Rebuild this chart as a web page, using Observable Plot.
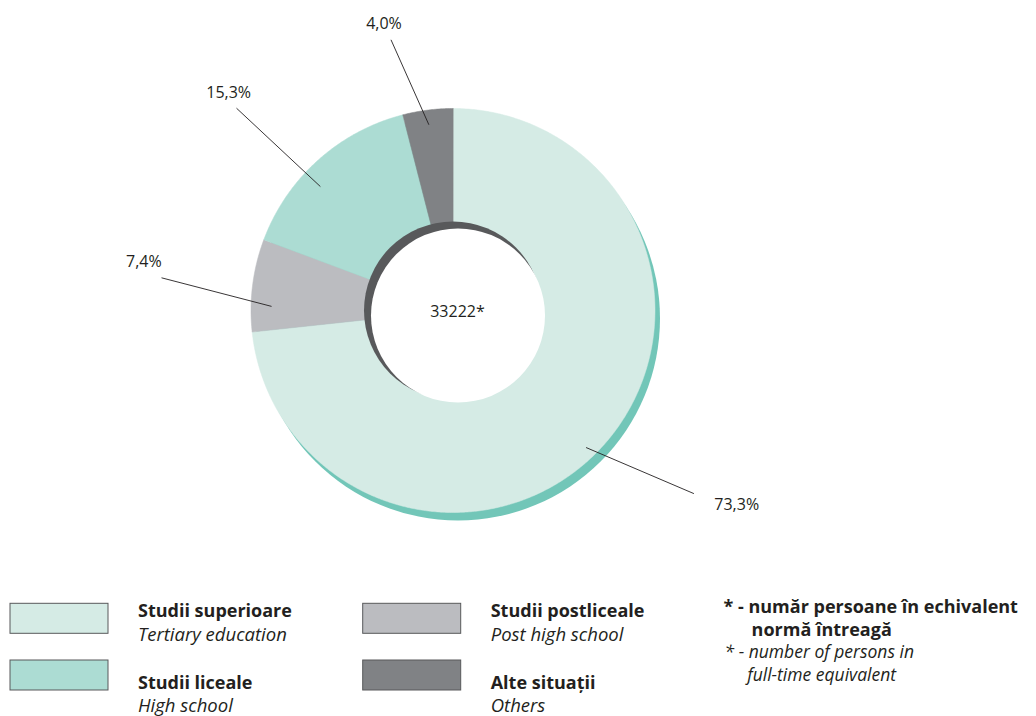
<!DOCTYPE html>
<html>
<head>
<meta charset="utf-8">
<script src="https://cdn.jsdelivr.net/npm/d3@7"></script>
<script src="https://cdn.jsdelivr.net/npm/@observablehq/plot@0.6"></script>
<style>
  html, body { margin: 0; padding: 0; background: #ffffff; }
  #chart svg { display: block; font-family: "Open Sans", sans-serif; color: #231f20; }
</style>
</head>
<body>
<div id="chart"></div>
<script>
// ---- Data ----
const categories = ["Studii superioare", "Studii postliceale", "Studii liceale", "Alte situații"];
const categoriesEn = ["Tertiary education", "Post high school", "High school", "Others"];
const shares = [73.3, 7.4, 15.3, 4.0];
const shareLabels = ["73,3%", "7,4%", "15,3%", "4,0%"];
const totalLabel = "33222*";
const noteRo = ["* - număr persoane în echivalent", "normă întreagă"];
const noteEn = ["* - number of persons in", "full-time equivalent"];

// ---- Styles / layout ----
const colors = ["#d5ebe5", "#bbbcc0", "#acdcd3", "#808285"];
const shadowColor = "#72c6b8";
const innerShadowColor = "#58595b";
const textColor = "#231f20";
const W = 1036, H = 716;
const cx = 452.5, cy = 310, R = 202, rHole = 89;
const shadowOff = [5, 8], holeOff = [5, 5], holeR = 87;
// leader-line layout per slice: angle offsets (deg) from slice mid angle and radii
const leaderLayout = [
  {inA: 3.9, inR: 191, outA: -4.7, outR: 302.6, txtA: -7.5, txtR: 344},
  {inA: -5.9, inR: 181.5, outA: -0.8, outR: 293.3, txtA: 1.8, txtR: 313},
  {inA: -5.0, inR: 181.5, outA: -5.0, outR: 296.3, txtA: -3.9, txtR: 312.7},
  {inA: -0.2, inR: 187.3, outA: -5.7, outR: 277.7, txtA: -6.35, txtR: 294.6}
];
// legend grid: order of categories (col-major 2x2)
const legendOrder = [0, 2, 1, 3];
const legendCols = [10, 362.7];
const legendRowsTop = [603.3, 660];
const legendTitleBase = [616, 688];
const legendSubBase = [640, 711.5];

function polar(deg, r, c0 = cx, c1 = cy) {
  const t = deg * Math.PI / 180;
  return [c0 + r * Math.sin(t), c1 - r * Math.cos(t)];
}

// slices
const sliceRows = [];
const mids = [];
let acc = 0;
shares.forEach((v, i) => {
  const a0 = acc * 3.6;
  acc += v;
  const a1 = acc * 3.6;
  mids.push((a0 + a1) / 2);
  const n = Math.max(2, Math.ceil((a1 - a0) / 0.5));
  sliceRows.push({slice: categories[i], x: cx, y: cy, fill: colors[i]});
  for (let k = 0; k <= n; k++) {
    const [x, y] = polar(a0 + (a1 - a0) * k / n, R);
    sliceRows.push({slice: categories[i], x, y, fill: colors[i]});
  }
});

const leaders = shares.map((v, i) => {
  const L = leaderLayout[i];
  const [x1, y1] = polar(mids[i] + L.inA, L.inR);
  const [x2, y2] = polar(mids[i] + L.outA, L.outR);
  const [tx, ty] = polar(mids[i] + L.txtA, L.txtR);
  return {x1, y1, x2, y2, tx, ty, label: shareLabels[i]};
});

const legendItems = legendOrder.map((ci, j) => {
  const col = Math.floor(j / 2), row = j % 2;
  const x0 = legendCols[col];
  return {
    x1: x0, x2: x0 + 98, y1: legendRowsTop[row], y2: legendRowsTop[row] + 30,
    tx: x0 + 127.5, ty1: legendTitleBase[row], ty2: legendSubBase[row],
    fill: colors[ci], title: categories[ci], sub: categoriesEn[ci]
  };
});

const NB = "\u00a0";
const noteBlocks = [
  {x: 723, y: 635, text: noteRo[0] + "\n" + NB.repeat(6) + noteRo[1], bold: true},
  {x: 724, y: 680, text: noteEn[0] + "\n" + NB.repeat(5) + noteEn[1], bold: false}
];

const plot = Plot.plot({
  width: W, height: H, margin: 0,
  x: {domain: [0, W], range: [0, W], axis: null},
  y: {domain: [0, H], range: [0, H], axis: null},
  color: {type: "identity"},
  marks: [
    Plot.dot([{x: cx + shadowOff[0], y: cy + shadowOff[1]}], {x: "x", y: "y", r: R, fill: shadowColor, stroke: "none"}),
    Plot.line(sliceRows, {x: "x", y: "y", z: "slice", fill: "fill", stroke: "fill", strokeWidth: 0.5, curve: "linear-closed"}),
    Plot.dot([{x: cx, y: cy}], {x: "x", y: "y", r: rHole, fill: innerShadowColor, stroke: "none"}),
    Plot.dot([{x: cx + holeOff[0], y: cy + holeOff[1]}], {x: "x", y: "y", r: holeR, fill: "#ffffff", stroke: "none"}),
    Plot.text([totalLabel], {x: () => cx + 4.5, y: () => cy + 1.5, text: d => d, fontSize: 16, fill: textColor, textAnchor: "middle", lineAnchor: "middle"}),
    Plot.link(leaders, {x1: "x1", y1: "y1", x2: "x2", y2: "y2", stroke: textColor, strokeWidth: 0.9}),
    Plot.text(leaders, {x: "tx", y: "ty", text: "label", fontSize: 16, fill: textColor, textAnchor: "middle", lineAnchor: "middle"}),
    Plot.rect(legendItems, {x1: "x1", x2: "x2", y1: "y1", y2: "y2", fill: "fill", stroke: "#58595b", strokeWidth: 1}),
    Plot.text(legendItems, {x: "tx", y: "ty1", text: "title", fontSize: 18, fontWeight: "bold", fill: textColor, textAnchor: "start", lineAnchor: "bottom"}),
    Plot.text(legendItems, {x: "tx", y: "ty2", text: "sub", fontSize: 18.5, fontStyle: "italic", fill: textColor, textAnchor: "start", lineAnchor: "bottom"}),
    Plot.text(noteBlocks.filter(d => d.bold), {x: "x", y: "y", text: "text", fontSize: 18, lineHeight: 23 / 18, fontWeight: "bold", fill: textColor, textAnchor: "start", lineAnchor: "bottom"}),
    Plot.text(noteBlocks.filter(d => !d.bold), {x: "x", y: "y", text: "text", fontSize: 17.5, lineHeight: 22.5 / 17.5, fontStyle: "italic", fill: textColor, textAnchor: "start", lineAnchor: "bottom"})
  ]
});
document.getElementById("chart").appendChild(plot);
</script>
</body>
</html>
